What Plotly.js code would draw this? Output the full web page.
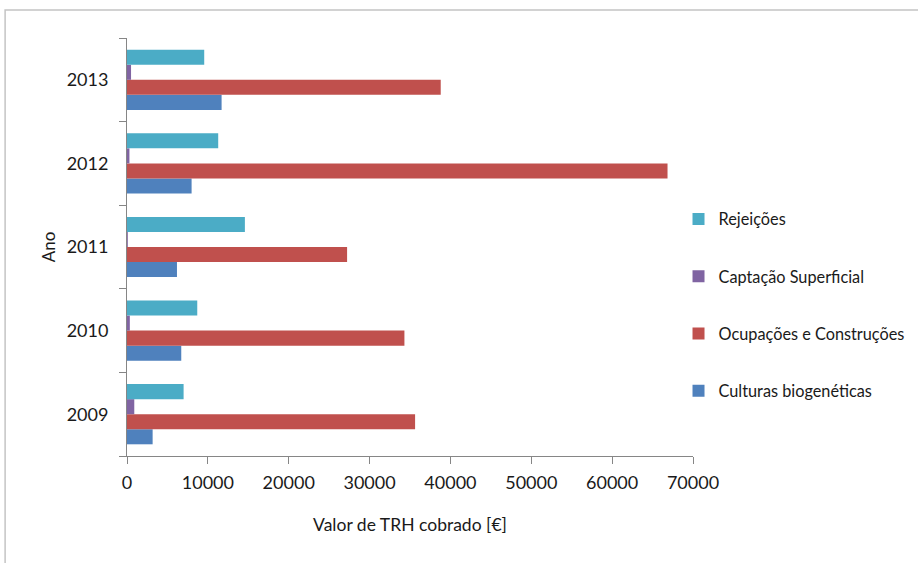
<!DOCTYPE html>
<html>
<head>
<meta charset="utf-8">
<script src="https://cdn.plot.ly/plotly-3.0.1.min.js"></script>
<style>
html, body { margin: 0; padding: 0; background: #ffffff; }
#chart { width: 918px; height: 563px; }
</style>
</head>
<body>
<div id="chart"></div>
<script>
// Data
var anos = ['2009', '2010', '2011', '2012', '2013'];
var culturasBiogeneticas = [3170, 6710, 6180, 7990, 11700];
var ocupacoesConstrucoes = [35630, 34310, 27220, 66850, 38800];
var captacaoSuperficial = [900, 350, 100, 300, 500];
var rejeicoes = [7000, 8690, 14580, 11280, 9550];

var seriesNames = ['Culturas biogenéticas', 'Ocupações e Construções', 'Captação Superficial', 'Rejeições'];
var seriesValues = [culturasBiogeneticas, ocupacoesConstrucoes, captacaoSuperficial, rejeicoes];
var seriesColors = ['#4F81BD', '#C0504D', '#8064A2', '#4BACC6'];
var legendRanks = [4, 3, 2, 1];

var FONT = 'Lato, "Open Sans", "DejaVu Sans", sans-serif';

var traces = seriesNames.map(function (name, i) {
  return {
    type: 'bar',
    orientation: 'h',
    name: name,
    legendgroup: 'g' + i,
    legendrank: legendRanks[i],
    y: anos,
    x: seriesValues[i],
    marker: { color: seriesColors[i], line: { width: 0 } },
    hoverinfo: 'x+name'
  };
});

// plot area: x 127..693.5, y 38..456
var L = 127, R = 918 - 693.5, T = 38, B = 563 - 456;
var PW = 918 - L - R, PH = 563 - T - B;
function px(xp) { return (xp - L) / PW; }
function py(yp) { return (563 - B - yp) / PH; }

var layout = {
  width: 918,
  height: 563,
  margin: { l: L, r: R, t: T, b: B, pad: 0, autoexpand: false },
  paper_bgcolor: '#ffffff',
  plot_bgcolor: '#ffffff',
  font: { family: FONT, color: '#1a1a1a', size: 18 },
  barmode: 'group',
  bargap: 0.28,
  bargroupgap: 0,
  showlegend: true,
  legend: {
    traceorder: 'grouped',
    tracegroupgap: 33,
    x: px(679),
    xanchor: 'left',
    y: py(305),
    yanchor: 'middle',
    font: { family: FONT, size: 16.3, color: '#1a1a1a' },
    bgcolor: 'rgba(0,0,0,0)',
    borderwidth: 0
  },
  xaxis: {
    range: [0, 70000],
    dtick: 10000,
    tick0: 0,
    tickformat: 'd',
    showgrid: false,
    zeroline: false,
    showline: true,
    linecolor: '#868686',
    linewidth: 1,
    ticks: 'outside',
    ticklen: 7,
    tickcolor: '#868686',
    ticklabelstandoff: 3,
    tickfont: { family: FONT, size: 18, color: '#1a1a1a' },
    title: { text: 'Valor de TRH cobrado [€]', font: { family: FONT, size: 17.5, color: '#1a1a1a' }, standoff: 27 },
    fixedrange: true
  },
  yaxis: {
    type: 'category',
    categoryorder: 'array',
    categoryarray: anos,
    range: [-0.5, 4.5],
    showgrid: false,
    zeroline: false,
    showline: true,
    linecolor: '#868686',
    linewidth: 1,
    ticks: 'outside',
    tickson: 'boundaries',
    ticklen: 7,
    tickcolor: '#868686',
    ticklabelstandoff: 14,
    tickfont: { family: FONT, size: 18, color: '#1a1a1a' },
    title: { text: 'Ano', font: { family: FONT, size: 17, color: '#1a1a1a' }, standoff: 6 },
    fixedrange: true
  },
  shapes: [
    {
      type: 'rect', xref: 'paper', yref: 'paper', layer: 'below',
      x0: px(5), x1: px(1000), y0: py(700), y1: py(10),
      line: { color: '#c4c4c4', width: 1.5 }, fillcolor: 'rgba(0,0,0,0)'
    }
  ]
};

Plotly.newPlot('chart', traces, layout, { displayModeBar: false, staticPlot: true });
</script>
</body>
</html>
